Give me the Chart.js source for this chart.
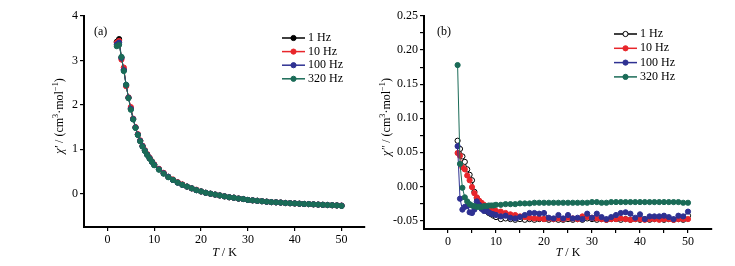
<!DOCTYPE html>
<html>
<head>
<meta charset="utf-8">
<script src="https://cdn.jsdelivr.net/npm/chart.js@4.4.1/dist/chart.umd.min.js"></script>
<style>
  body { margin: 0; background: #fff; }
  #wrap { position: relative; width: 735px; height: 266px; }
  canvas { position: absolute; top: 0; }
</style>
</head>
<body>
<div id="wrap">
  <canvas id="chartA" width="370" height="266" style="left:0"></canvas>
  <canvas id="chartB" width="365" height="266" style="left:370px"></canvas>
</div>
<script>
// temperatures (K), same for both panels
const temps = [2, 2.5, 3, 3.5, 4, 4.5, 5, 5.5, 6, 6.5, 7, 7.5, 8, 8.5, 9, 9.5, 10,
  11, 12, 13, 14, 15, 16, 17, 18, 19, 20, 21, 22, 23, 24, 25, 26, 27, 28, 29, 30,
  31, 32, 33, 34, 35, 36, 37, 38, 39, 40, 41, 42, 43, 44, 45, 46, 47, 48, 49, 50];

const freqLabels = ['1 Hz', '10 Hz', '100 Hz', '320 Hz'];

// panel (a) chi' (cm3/mol)
const chiReal1 = [3.42, 3.48, 3.06, 2.79, 2.44, 2.16, 1.91, 1.68, 1.49, 1.33, 1.19, 1.07, 0.97, 0.88, 0.80, 0.72, 0.65,
  0.55, 0.46, 0.38, 0.31, 0.25, 0.20, 0.16, 0.12, 0.08, 0.05, 0.02, 0.00, -0.02, -0.04, -0.06, -0.08, -0.09, -0.11, -0.12, -0.14,
  -0.15, -0.16, -0.17, -0.18, -0.19, -0.195, -0.20, -0.21, -0.215, -0.22, -0.225, -0.23, -0.235, -0.24, -0.245, -0.25, -0.255, -0.26, -0.265, -0.27];
const chiReal10 = [3.40, 3.44, 3.02, 2.84, 2.42, 2.17, 1.95, 1.69, 1.50, 1.34, 1.20, 1.08, 0.98, 0.89, 0.81, 0.73, 0.66,
  0.56, 0.47, 0.38, 0.32, 0.26, 0.21, 0.16, 0.12, 0.09, 0.05, 0.02, 0.00, -0.02, -0.04, -0.06, -0.08, -0.09, -0.11, -0.12, -0.14,
  -0.15, -0.16, -0.17, -0.18, -0.19, -0.195, -0.20, -0.21, -0.215, -0.22, -0.225, -0.23, -0.235, -0.24, -0.245, -0.25, -0.255, -0.26, -0.265, -0.27];
const chiReal100 = [3.36, 3.40, 3.06, 2.78, 2.45, 2.16, 1.91, 1.68, 1.49, 1.33, 1.19, 1.07, 0.97, 0.88, 0.80, 0.72, 0.65,
  0.55, 0.46, 0.38, 0.31, 0.25, 0.20, 0.16, 0.12, 0.08, 0.05, 0.02, 0.00, -0.02, -0.04, -0.06, -0.08, -0.09, -0.11, -0.12, -0.14,
  -0.15, -0.16, -0.17, -0.18, -0.19, -0.195, -0.20, -0.21, -0.215, -0.22, -0.225, -0.23, -0.235, -0.24, -0.245, -0.25, -0.255, -0.26, -0.265, -0.27];
const chiReal320 = [3.32, 3.35, 3.08, 2.76, 2.45, 2.15, 1.89, 1.67, 1.48, 1.32, 1.18, 1.06, 0.96, 0.87, 0.79, 0.72, 0.64,
  0.54, 0.45, 0.37, 0.31, 0.25, 0.20, 0.16, 0.12, 0.08, 0.05, 0.02, 0.00, -0.02, -0.04, -0.06, -0.08, -0.09, -0.11, -0.12, -0.14,
  -0.15, -0.16, -0.17, -0.18, -0.19, -0.195, -0.20, -0.21, -0.215, -0.22, -0.225, -0.23, -0.235, -0.24, -0.245, -0.25, -0.255, -0.26, -0.265, -0.275];

// panel (b) chi'' (cm3/mol)
const chiImag1 = [0.067, 0.055, 0.044, 0.036, 0.025, 0.017, 0.009, -0.008, -0.017, -0.024, -0.029, -0.033, -0.036, -0.039, -0.041, -0.043, -0.045,
  -0.048, -0.047, -0.048, -0.049, -0.048, -0.049, -0.048, -0.049, -0.048, -0.048, -0.049, -0.048, -0.049, -0.049, -0.048, -0.049, -0.048, -0.049, -0.047, -0.048,
  -0.049, -0.048, -0.049, -0.048, -0.048, -0.049, -0.048, -0.049, -0.048, -0.049, -0.048, -0.049, -0.048, -0.048, -0.049, -0.048, -0.049, -0.048, -0.049, -0.043];
const chiImag10 = [0.049, 0.045, 0.028, 0.025, 0.016, 0.009, -0.001, -0.010, -0.016, -0.021, -0.024, -0.027, -0.030, -0.032, -0.034, -0.035, -0.036,
  -0.037, -0.039, -0.041, -0.042, -0.044, -0.045, -0.046, -0.047, -0.047, -0.048, -0.047, -0.048, -0.047, -0.048, -0.046, -0.047, -0.048, -0.044, -0.045, -0.046,
  -0.047, -0.048, -0.049, -0.048, -0.048, -0.047, -0.048, -0.049, -0.048, -0.048, -0.049, -0.048, -0.048, -0.049, -0.048, -0.048, -0.049, -0.048, -0.048, -0.048];
const chiImag100 = [0.059, -0.018, -0.034, -0.030, -0.029, -0.038, -0.039, -0.034, -0.022, -0.027, -0.033, -0.036, -0.035, -0.038, -0.040, -0.041, -0.042,
  -0.044, -0.043, -0.046, -0.047, -0.045, -0.042, -0.039, -0.039, -0.040, -0.039, -0.046, -0.047, -0.042, -0.047, -0.042, -0.047, -0.046, -0.048, -0.040, -0.046,
  -0.040, -0.045, -0.048, -0.045, -0.042, -0.039, -0.038, -0.040, -0.046, -0.041, -0.048, -0.044, -0.044, -0.044, -0.043, -0.045, -0.048, -0.043, -0.044, -0.037];
const chiImag320 = [0.178, 0.033, -0.002, -0.016, -0.022, -0.026, -0.028, -0.029, -0.030, -0.030, -0.030, -0.029, -0.029, -0.028, -0.028, -0.028, -0.027,
  -0.027, -0.026, -0.026, -0.026, -0.025, -0.025, -0.025, -0.024, -0.024, -0.024, -0.024, -0.024, -0.024, -0.024, -0.024, -0.024, -0.024, -0.024, -0.024, -0.023,
  -0.023, -0.024, -0.024, -0.023, -0.023, -0.023, -0.023, -0.023, -0.023, -0.023, -0.023, -0.023, -0.023, -0.023, -0.023, -0.023, -0.023, -0.023, -0.024, -0.024];

// tick values
const xTicksA = [0, 10, 20, 30, 40, 50];
const yTicksA = [0, 1, 2, 3, 4];
const xTicksB = [0, 5, 10, 15, 20, 25, 30, 35, 40, 45, 50];
const yTicksB = [-0.05, -0.025, 0, 0.025, 0.05, 0.075, 0.1, 0.125, 0.15, 0.175, 0.2, 0.225, 0.25];

const colors = ['#000000', '#e8262b', '#2e3192', '#1a6b57'];
const SERIF = '"Liberation Serif", "Times New Roman", serif';

Chart.defaults.font.family = SERIF;
Chart.defaults.font.size = 12;
Chart.defaults.color = '#000';

function drawRich(ctx, segs, x, y, size, rotate) {
  ctx.save();
  ctx.translate(x, y);
  if (rotate) ctx.rotate(-Math.PI / 2);
  const fontOf = s => (s.it ? 'italic ' : '') + (s.sup ? size * 0.7 : size) + 'px ' + SERIF;
  let w = 0;
  segs.forEach(s => { ctx.font = fontOf(s); w += ctx.measureText(s.t).width; });
  let cx = -w / 2;
  ctx.textBaseline = 'middle';
  ctx.textAlign = 'left';
  ctx.fillStyle = '#000';
  segs.forEach(s => {
    ctx.font = fontOf(s);
    ctx.fillText(s.t, cx, s.sup ? -size * 0.33 : 0);
    cx += ctx.measureText(s.t).width;
  });
  ctx.restore();
}

// titles, panel tag and in-plot legend
const decoPlugin = {
  id: 'deco',
  afterDraw(chart, args, o) {
    const ctx = chart.ctx;
    const area = chart.chartArea;
    drawRich(ctx, o.yTitle, o.yTitleX, o.yTitleY, 12, true);
    drawRich(ctx, [{ t: 'T', it: true }, { t: ' / K' }], (area.left + area.right) / 2, o.xTitleY, 12, false);
    ctx.save();
    ctx.font = '12px ' + SERIF;
    ctx.fillStyle = '#000';
    ctx.textBaseline = 'middle';
    ctx.fillText(o.tag, o.tagX, o.tagY);
    chart.data.datasets.forEach((ds, i) => {
      const y = o.legY + i * o.legDy;
      ctx.strokeStyle = ds.borderColor;
      ctx.lineWidth = 1.5;
      ctx.beginPath();
      ctx.moveTo(o.legX1, y);
      ctx.lineTo(o.legX2, y);
      ctx.stroke();
      ctx.beginPath();
      ctx.arc((o.legX1 + o.legX2) / 2, y, 2.6, 0, Math.PI * 2);
      ctx.fillStyle = ds.pointBackgroundColor;
      ctx.fill();
      ctx.lineWidth = 1;
      ctx.strokeStyle = ds.pointBorderColor;
      ctx.stroke();
      ctx.fillStyle = '#000';
      ctx.fillText(ds.label, o.legX2 + 3, y);
    });
    ctx.restore();
  }
};

function makeSets(series, openFirst) {
  return series.map((vals, i) => ({
    label: freqLabels[i],
    data: temps.map((t, k) => ({ x: t, y: vals[k] })),
    borderColor: colors[i],
    backgroundColor: colors[i],
    pointBackgroundColor: (openFirst && i === 0) ? '#fff' : colors[i],
    pointBorderColor: colors[i],
    pointRadius: 2.6,
    pointBorderWidth: 1,
    borderWidth: 1,
    showLine: true,
    order: 3 - i
  }));
}

function axis(min, max, ticks, fitKey, fitVal, fmt) {
  return {
    type: 'linear',
    min: min,
    max: max,
    afterBuildTicks: s => { s.ticks = ticks.map(v => ({ value: v })); },
    afterFit: s => { s[fitKey] = fitVal; },
    grid: { display: true, drawOnChartArea: false, drawTicks: true, tickLength: 4, color: '#000', lineWidth: 1.2 },
    border: { display: true, color: '#000', width: 2 },
    ticks: { padding: 2, maxRotation: 0, autoSkip: false, color: '#000', font: { size: 12, family: SERIF }, callback: fmt }
  };
}

new Chart(document.getElementById('chartA'), {
  type: 'scatter',
  data: { datasets: makeSets([chiReal1, chiReal10, chiReal100, chiReal320], false) },
  options: {
    responsive: false,
    animation: false,
    devicePixelRatio: 1,
    layout: { padding: { left: 0, right: 1, top: 16, bottom: 0 } },
    scales: {
      x: axis(-5, 55, xTicksA, 'height', 39, v => String(v)),
      y: axis(-0.75, 4, yTicksA, 'width', 84, v => String(v))
    },
    plugins: {
      legend: { display: false },
      tooltip: { enabled: false },
      deco: {
        yTitle: [{ t: 'χ′', it: true }, { t: ' / (cm' }, { t: '3', sup: true }, { t: '·mol' }, { t: '−1', sup: true }, { t: ')' }],
        yTitleX: 60, yTitleY: 116, xTitleY: 253,
        tag: '(a)', tagX: 94, tagY: 32,
        legX1: 282, legX2: 305, legY: 38, legDy: 13.6
      }
    }
  },
  plugins: [decoPlugin]
});

new Chart(document.getElementById('chartB'), {
  type: 'scatter',
  data: { datasets: makeSets([chiImag1, chiImag10, chiImag100, chiImag320], true) },
  options: {
    responsive: false,
    animation: false,
    devicePixelRatio: 1,
    layout: { padding: { left: 0, right: 23, top: 16, bottom: 0 } },
    scales: {
      x: axis(-5, 55, xTicksB, 'height', 37, v => (v % 10 === 0 ? String(v) : '')),
      y: axis(-0.0625, 0.25, yTicksB, 'width', 54, v => (Math.round(v * 1000) % 50 === 0 ? v.toFixed(2) : ''))
    },
    plugins: {
      legend: { display: false },
      tooltip: { enabled: false },
      deco: {
        yTitle: [{ t: 'χ″', it: true }, { t: ' / (cm' }, { t: '3', sup: true }, { t: '·mol' }, { t: '−1', sup: true }, { t: ')' }],
        yTitleX: 17, yTitleY: 117, xTitleY: 253,
        tag: '(b)', tagX: 67, tagY: 32,
        legX1: 244, legX2: 267, legY: 34, legDy: 14.3
      }
    }
  },
  plugins: [decoPlugin]
});
</script>
</body>
</html>
